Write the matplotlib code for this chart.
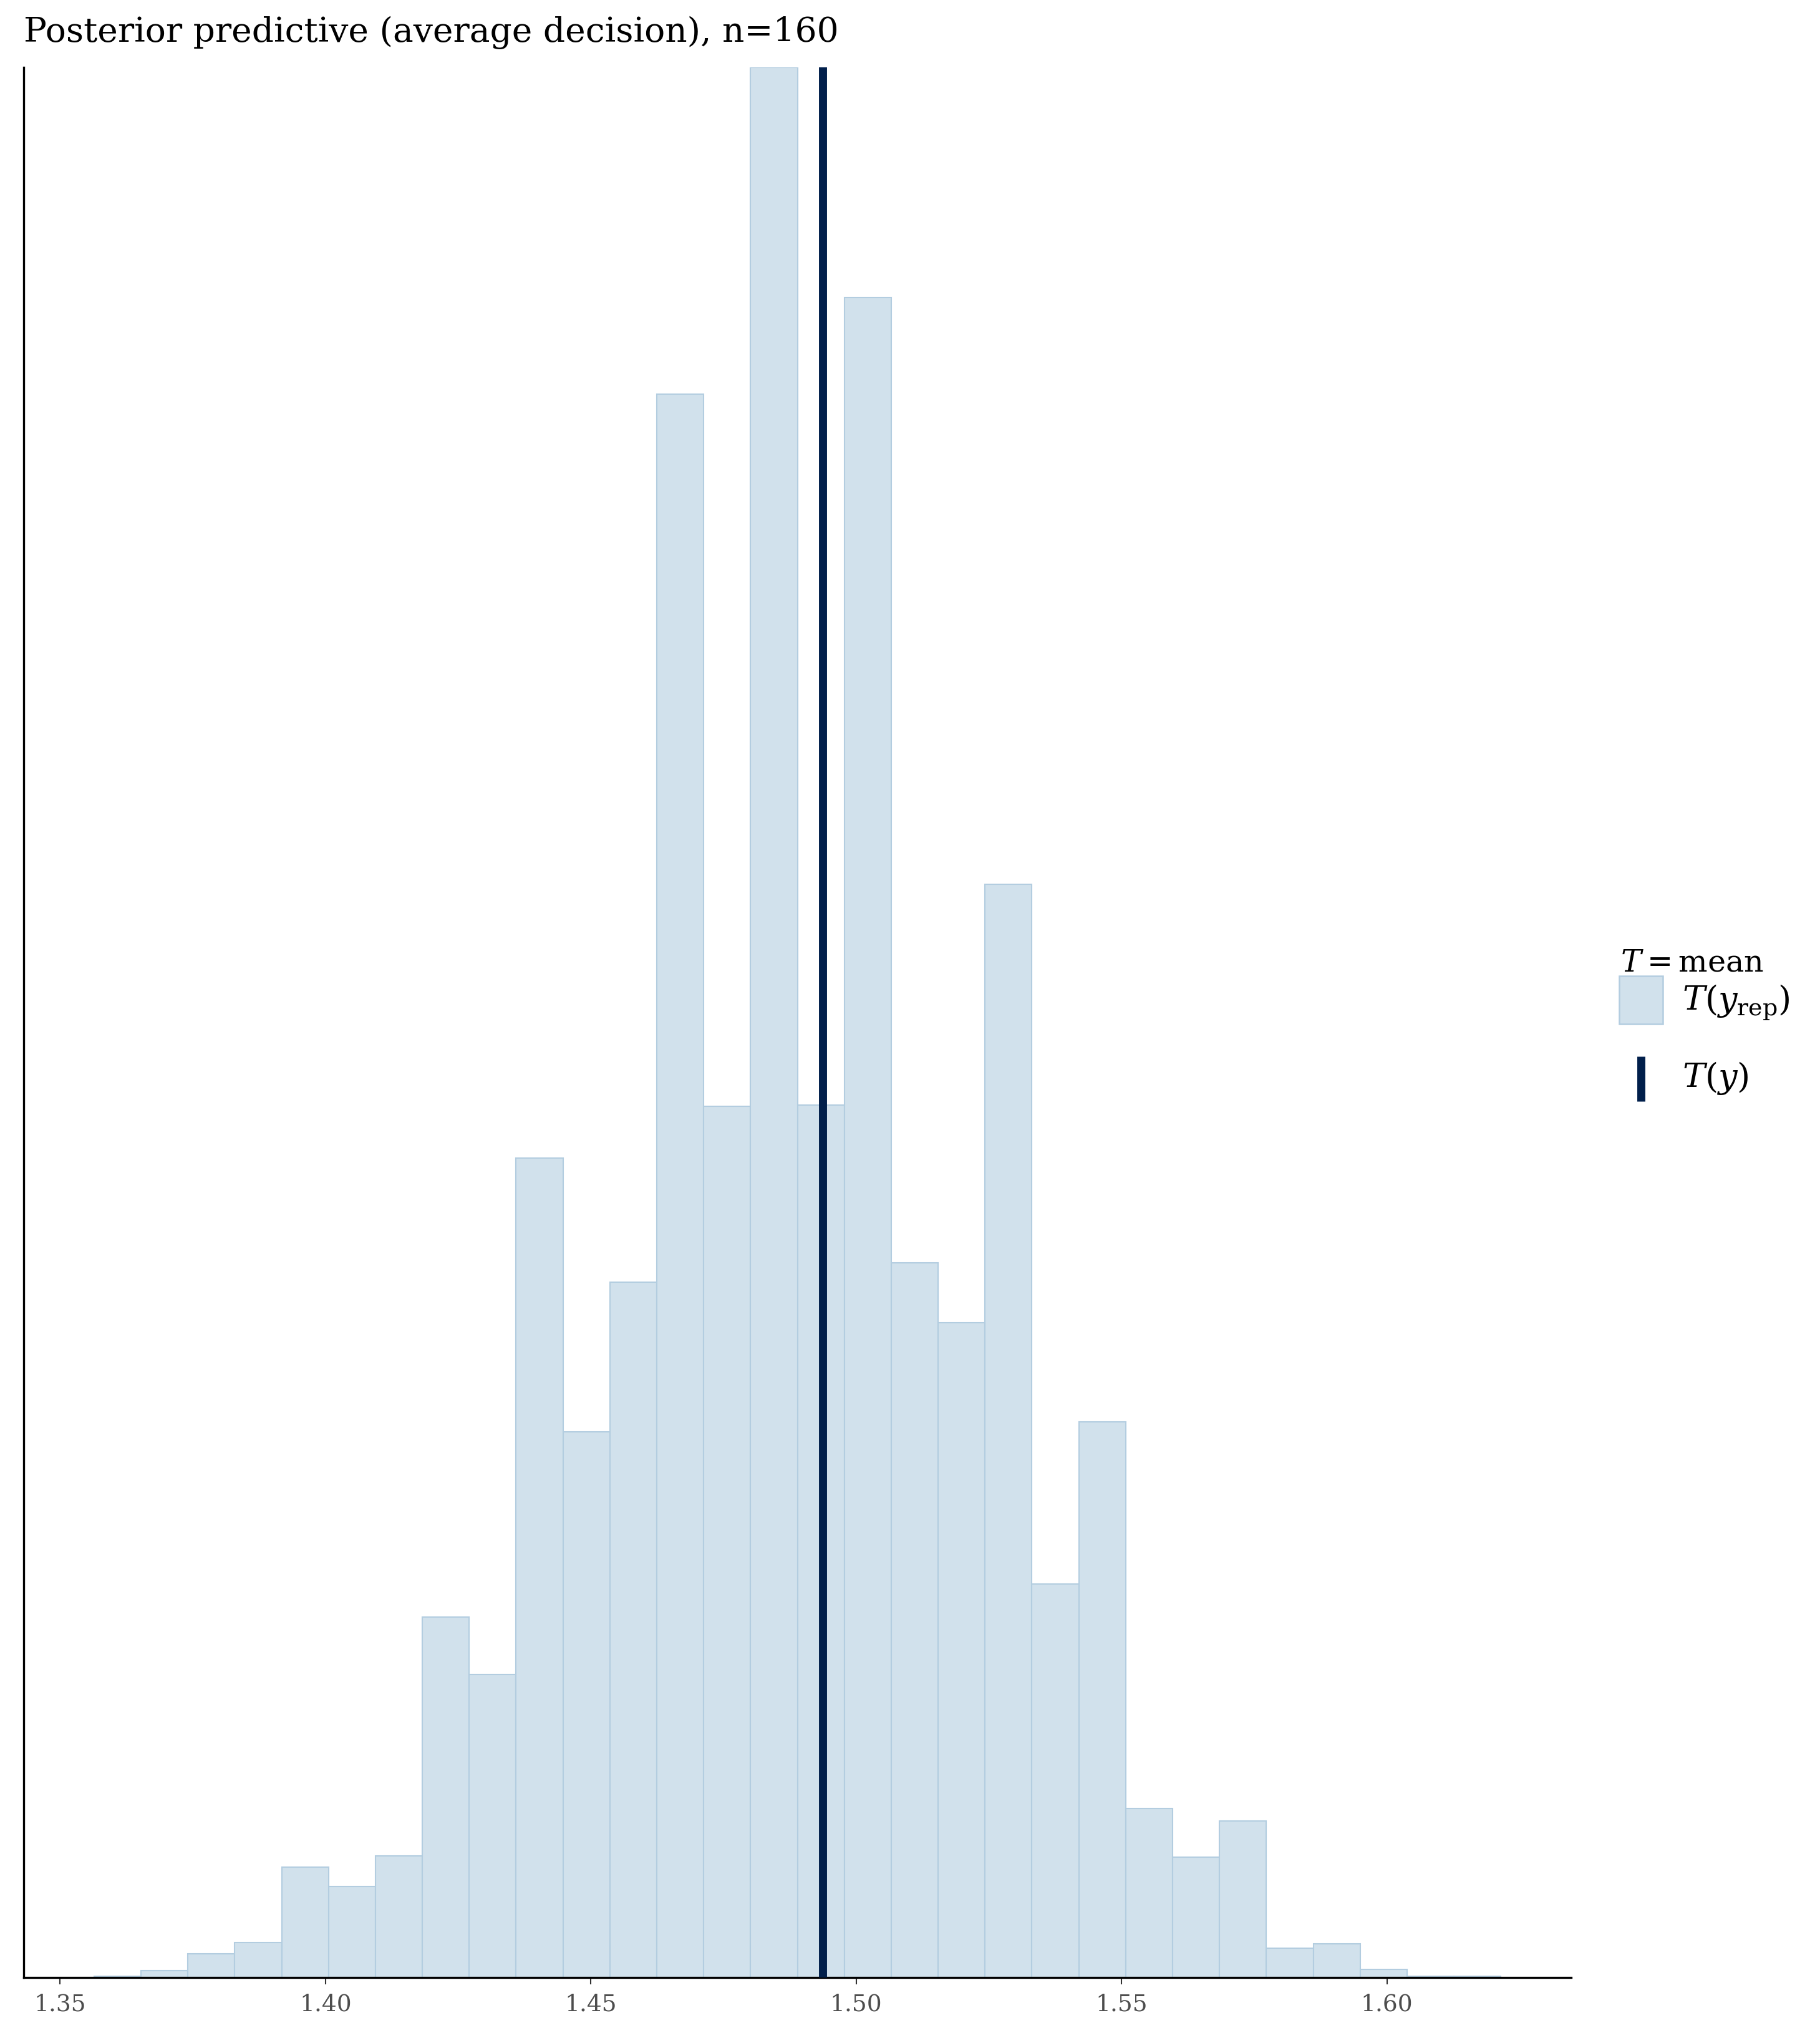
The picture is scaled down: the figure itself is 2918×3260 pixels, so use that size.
import matplotlib
matplotlib.use("Agg")
import matplotlib.pyplot as plt
import numpy as np
from matplotlib.patches import Patch
from matplotlib.lines import Line2D
from matplotlib.legend_handler import HandlerLine2D

# ---------------- data ----------------
title_text = "Posterior predictive (average decision), n=160"
legend_title = r"$T = \mathrm{mean}$"
label_rep = r"$T(y_{\mathrm{rep}})$"
label_obs = r"$T(y)$"

bin_start = 1.35639          # left edge of first bin
bin_width = 0.0088362        # width of each of the 30 bins
counts = [1, 5, 17, 25, 79, 65, 87, 258, 217, 587,
          391, 498, 1134, 624, 1368, 625, 1203, 512, 469, 783,
          282, 398, 121, 86, 112, 21, 24, 6, 1, 1]
t_obs = 1.49375              # observed mean
x_ticks = [1.35, 1.40, 1.45, 1.50, 1.55, 1.60]
x_tick_labels = ["1.35", "1.40", "1.45", "1.50", "1.55", "1.60"]

# ---------------- style ----------------
fill_col = "#d1e1ec"
edge_col = "#b3cde0"
line_col = "#011f4b"

plt.rcParams["font.family"] = ["DejaVu Serif"]
plt.rcParams["mathtext.fontset"] = "dejavuserif"

W, H, DPI = 2918, 3260, 300
fig = plt.figure(figsize=(W / DPI, H / DPI), dpi=DPI)
fig.patch.set_facecolor("white")

left_px, right_px, top_px, bottom_px = 38, 2519, 108, 3171
ax = fig.add_axes([left_px / W, (H - bottom_px) / H,
                   (right_px - left_px) / W, (bottom_px - top_px) / H])

counts_arr = np.asarray(counts)
edges = bin_start + bin_width * np.arange(len(counts_arr) + 1)
ax.bar(edges[:-1], counts_arr, width=bin_width, align="edge",
       color=fill_col, edgecolor=edge_col, linewidth=0.5, zorder=2)
ax.axvline(t_obs, color=line_col, linewidth=3.1, zorder=3)

lo, hi = edges[0], edges[-1]
pad = 0.05 * (hi - lo)
ax.set_xlim(lo - pad, hi + pad)
ax.set_ylim(0, counts_arr.max())

ax.set_xticks(x_ticks)
ax.set_xticklabels(x_tick_labels)
ax.tick_params(axis="x", length=2.7, width=0.5, color="#333333",
               labelsize=9, labelcolor="#4d4d4d", pad=3.5)
ax.set_yticks([])
for s in ["top", "right"]:
    ax.spines[s].set_visible(False)
for s in ["left", "bottom"]:
    ax.spines[s].set_linewidth(0.8)
    ax.spines[s].set_color("black")
ax.set_facecolor("white")

fig.text(left_px / W, 1 - 67 / H, title_text, ha="left", va="baseline",
         fontsize=13.2, color="black")

# legend title drawn separately so it sits right above the keys
fig.text(2598 / W, 1 - 1558 / H, legend_title, ha="left", va="baseline",
         fontsize=11.8, color="black")


class ShiftedMarkerHandler(HandlerLine2D):
    """Vertical-bar key, nudged down to centre on its label."""
    def __init__(self, shift, **kw):
        super().__init__(**kw)
        self.shift = shift

    def create_artists(self, legend, orig_handle, xdescent, ydescent,
                       width, height, fontsize, trans):
        arts = super().create_artists(legend, orig_handle, xdescent, ydescent,
                                      width, height, fontsize, trans)
        for a in arts:
            a.set_ydata(np.asarray(a.get_ydata(), dtype=float) - self.shift)
        return arts


rep_handle = Patch(facecolor=fill_col, edgecolor=edge_col, linewidth=0.6)
obs_handle = Line2D([], [], color=line_col, marker="|", linestyle="None",
                    markersize=17.3, markeredgewidth=3.1)
leg = fig.legend([rep_handle, obs_handle], [label_rep, label_obs],
                 loc="upper left", bbox_to_anchor=(2596 / W, 1 - 1565 / H),
                 frameon=False, fontsize=13,
                 handlelength=1.3, handleheight=1.81, handletextpad=0.57,
                 labelspacing=0.85, borderpad=0, borderaxespad=0,
                 numpoints=1,
                 handler_map={obs_handle: ShiftedMarkerHandler(3.4, numpoints=1)})

fig.savefig("out.png", dpi=DPI, facecolor="white")
